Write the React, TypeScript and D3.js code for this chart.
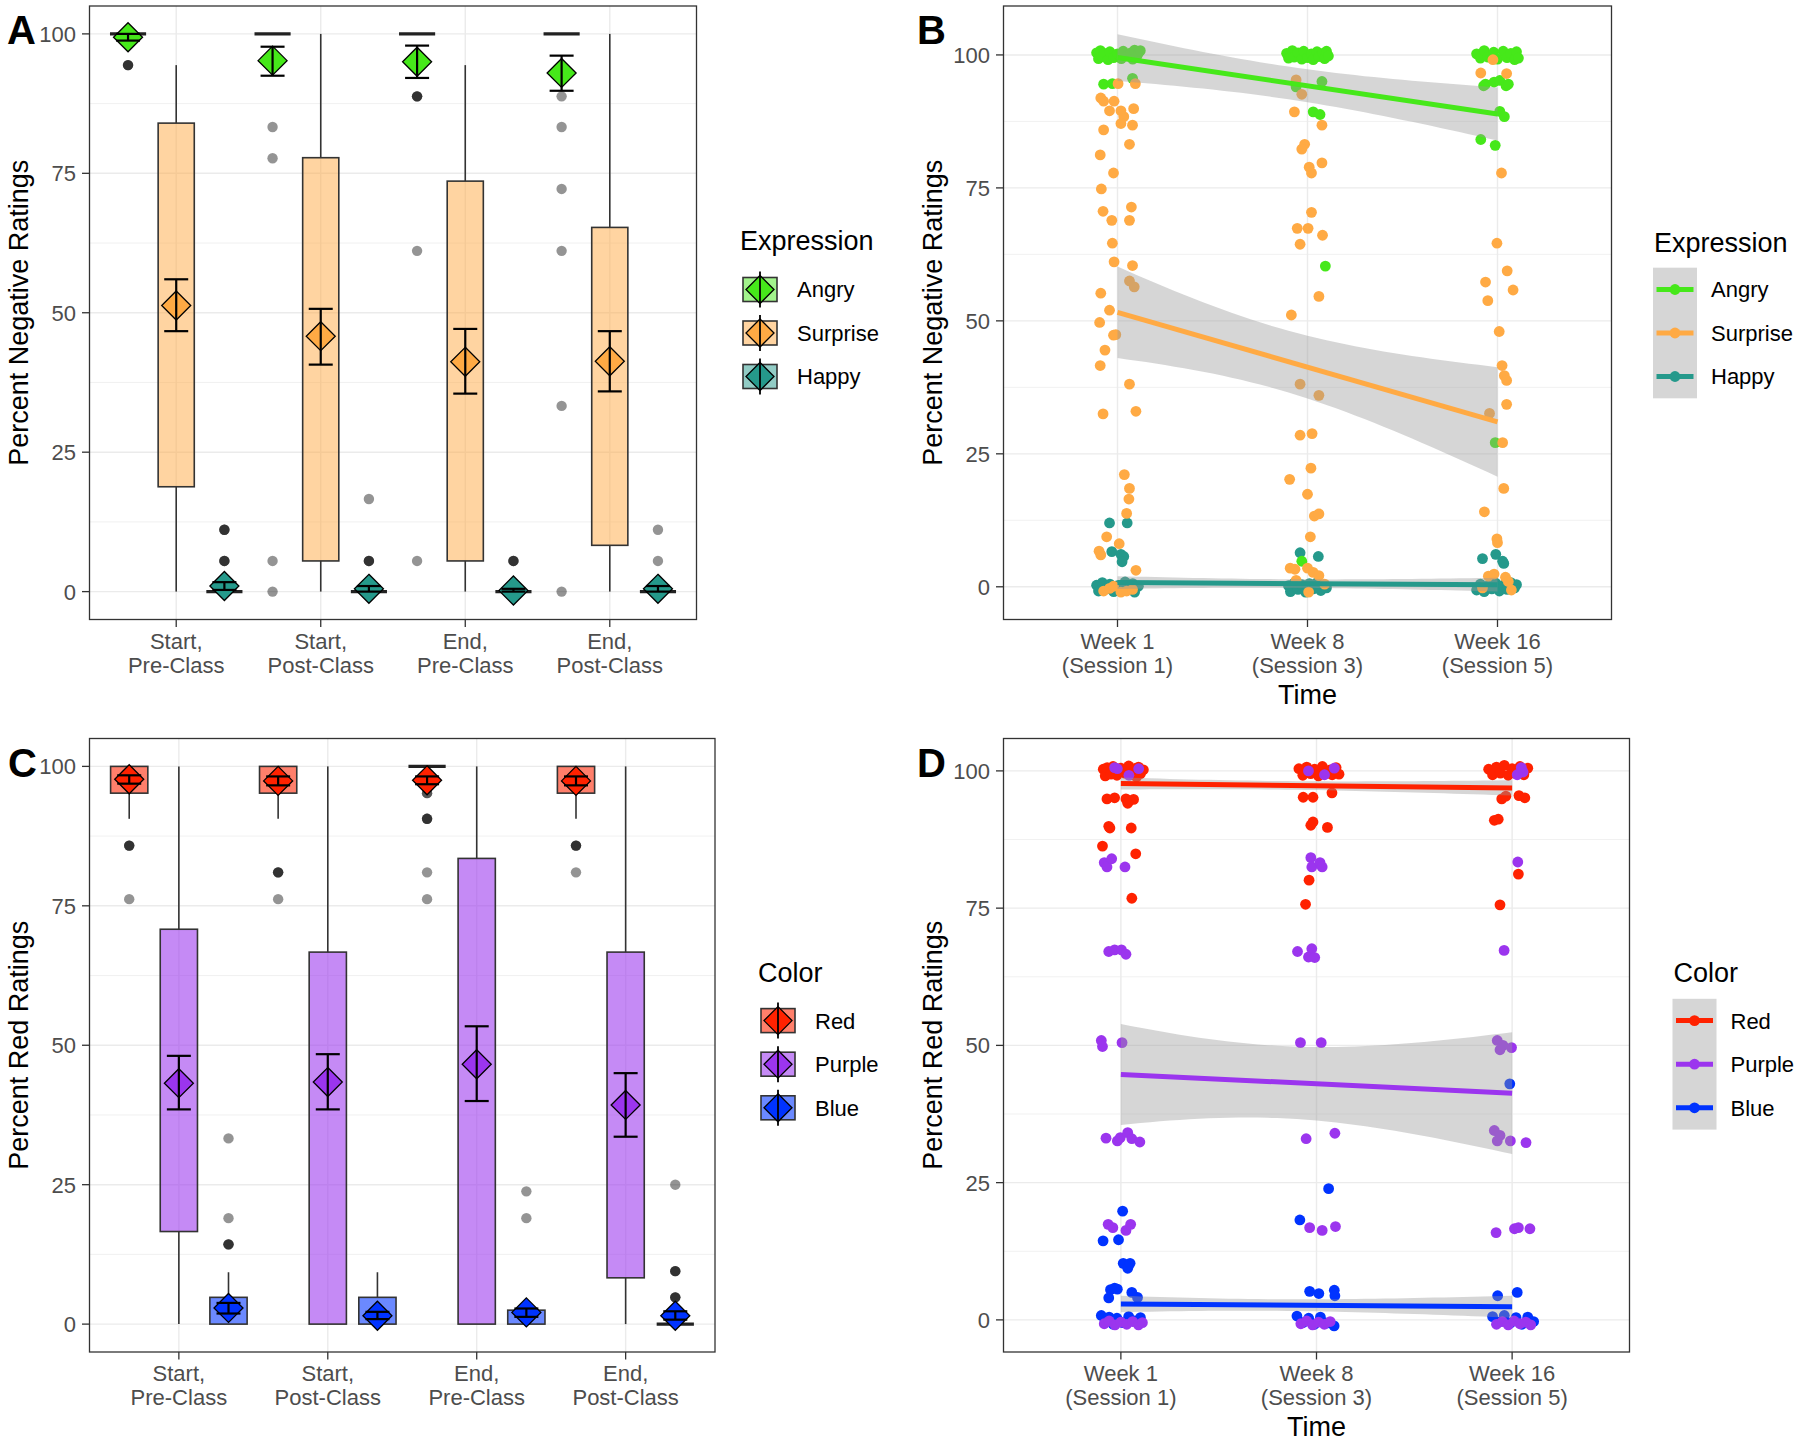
import React from "react";
import * as d3 from "d3";

const W = 1800, H = 1443;
const FONT = "'Liberation Sans', Arial, Helvetica, sans-serif";

// ---------- categories / labels ----------
const boxCategories = [["Start,", "Pre-Class"], ["Start,", "Post-Class"], ["End,", "Pre-Class"], ["End,", "Post-Class"]];
const weekCategories = [["Week 1", "(Session 1)"], ["Week 8", "(Session 3)"], ["Week 16", "(Session 5)"]];
const yTicks = [0, 25, 50, 75, 100];
const yMinor = [12.5, 37.5, 62.5, 87.5];
const expressionNames = ["Angry", "Surprise", "Happy"];
const expressionColors = ["#46E81A", "#FFAA44", "#25998B"];
const colorNames = ["Red", "Purple", "Blue"];
const colorColors = ["#FF2200", "#9B35EE", "#0033FF"];

// ---------- Panel A: box stats (per category) ----------
const angryBoxA = [
  { lo: 100, q1: 100, med: 100, q3: 100, hi: 100, mean: 99.4, eLo: 98.8, eHi: 100, out: [94.4, 94.4, 94.4] },
  { lo: 100, q1: 100, med: 100, q3: 100, hi: 100, mean: 95.2, eLo: 92.5, eHi: 97.7, out: [83.3, 77.7, 5.5, 0] },
  { lo: 100, q1: 100, med: 100, q3: 100, hi: 100, mean: 95.0, eLo: 92.1, eHi: 97.9, out: [88.8, 88.8, 88.8, 61.1, 5.5] },
  { lo: 100, q1: 100, med: 100, q3: 100, hi: 100, mean: 93.0, eLo: 89.8, eHi: 96.1, out: [88.8, 83.3, 72.2, 61.1, 33.3, 0] },
];
const surpriseBoxA = [
  { lo: 0, q1: 18.8, med: null, q3: 84.0, hi: 94.4, mean: 51.3, eLo: 46.7, eHi: 56.0, out: [] },
  { lo: 0, q1: 5.5, med: null, q3: 77.8, hi: 100, mean: 45.8, eLo: 40.7, eHi: 50.7, out: [] },
  { lo: 0, q1: 5.5, med: null, q3: 73.6, hi: 94.4, mean: 41.2, eLo: 35.5, eHi: 47.1, out: [] },
  { lo: 0, q1: 8.3, med: null, q3: 65.3, hi: 100, mean: 41.3, eLo: 35.9, eHi: 46.7, out: [] },
];
const happyBoxA = [
  { lo: 0, q1: 0, med: 0, q3: 0, hi: 0, mean: 1.0, eLo: 0.3, eHi: 1.7, out: [11.1, 11.1, 11.1, 5.5, 5.5, 5.5] },
  { lo: 0, q1: 0, med: 0, q3: 0, hi: 0, mean: 0.5, eLo: 0, eHi: 1.0, out: [16.6, 5.5, 5.5, 5.5] },
  { lo: 0, q1: 0, med: 0, q3: 0, hi: 0, mean: 0.2, eLo: 0, eHi: 0.5, out: [5.5, 5.5, 5.5] },
  { lo: 0, q1: 0, med: 0, q3: 0, hi: 0, mean: 0.5, eLo: 0, eHi: 1.0, out: [11.1, 5.5] },
];

// ---------- Panel C: box stats ----------
const redBoxC = [
  { lo: 90.6, q1: 95.2, med: null, q3: 100, hi: 100, mean: 97.7, eLo: 96.9, eHi: 98.4, out: [85.8, 85.8, 85.8, 76.2] },
  { lo: 90.6, q1: 95.2, med: null, q3: 100, hi: 100, mean: 97.4, eLo: 96.6, eHi: 98.2, out: [81.0, 81.0, 81.0, 76.2] },
  { lo: 100, q1: 100, med: 100, q3: 100, hi: 100, mean: 97.5, eLo: 96.8, eHi: 98.2, out: [95.2, 95.2, 90.6, 90.6, 90.6, 81.0, 76.2] },
  { lo: 90.6, q1: 95.2, med: null, q3: 100, hi: 100, mean: 97.4, eLo: 96.6, eHi: 98.2, out: [85.8, 85.8, 85.8, 81.0] },
];
const purpleBoxC = [
  { lo: 0, q1: 16.6, med: null, q3: 70.8, hi: 100, mean: 43.2, eLo: 38.5, eHi: 48.1, out: [] },
  { lo: 0, q1: 0, med: null, q3: 66.7, hi: 100, mean: 43.4, eLo: 38.5, eHi: 48.4, out: [] },
  { lo: 0, q1: 0, med: null, q3: 83.5, hi: 100, mean: 46.6, eLo: 40.0, eHi: 53.4, out: [] },
  { lo: 0, q1: 8.3, med: null, q3: 66.7, hi: 100, mean: 39.3, eLo: 33.6, eHi: 45.0, out: [] },
];
const blueBoxC = [
  { lo: 0, q1: 0, med: null, q3: 4.8, hi: 9.3, mean: 2.9, eLo: 1.9, eHi: 3.8, out: [33.3, 19.0, 14.3, 14.3, 14.3] },
  { lo: 0, q1: 0, med: null, q3: 4.8, hi: 9.3, mean: 1.5, eLo: 0.9, eHi: 2.2, out: [] },
  { lo: 0, q1: 0, med: null, q3: 2.5, hi: 2.5, mean: 2.1, eLo: 1.3, eHi: 2.8, out: [23.8, 19.0] },
  { lo: 0, q1: 0, med: 0, q3: 0, hi: 0, mean: 1.5, eLo: 0.8, eHi: 2.3, out: [25.0, 9.5, 9.5, 9.5, 4.8, 4.8, 4.8] },
];

// ---------- Panel B: jittered points [week, jitter, value] ----------
const angryPointsB = [
  [0,-0.11,100.4],[0,-0.1,99.3],[0,-0.09,100.8],[0,-0.08,99.7],[0,-0.07,100.3],[0,-0.05,99.1],[0,-0.04,100.6],[0,-0.02,99.5],[0,0.0,100.2],[0,0.02,99.3],[0,0.03,100.7],[0,0.05,99.8],[0,0.07,100.4],[0,0.08,99.2],[0,0.09,100.9],[0,0.1,99.6],[0,0.11,100.3],[0,0.12,100.8],
  [0,-0.073,94.5],[0,-0.027,94.6],[0,0.079,95.6],
  [1,-0.11,100.3],[1,-0.1,99.4],[1,-0.08,100.8],[1,-0.07,99.6],[1,-0.05,100.4],[1,-0.03,99.2],[1,-0.02,100.7],[1,0.0,99.5],[1,0.02,100.2],[1,0.03,99.1],[1,0.05,100.6],[1,0.06,99.7],[1,0.08,100.3],[1,0.09,99.3],[1,0.1,100.7],[1,0.11,99.8],
  [1,-0.06,94.0],[1,0.076,95.0],[1,0.03,89.3],[1,0.066,88.8],[1,0.094,60.3],[1,-0.03,4.8],
  [2,-0.11,100.2],[2,-0.09,99.4],[2,-0.07,100.8],[2,-0.05,99.6],[2,-0.02,100.5],[2,0.0,99.2],[2,0.03,100.7],[2,0.05,99.5],[2,0.07,100.3],[2,0.09,99.1],[2,0.1,100.6],[2,0.11,99.4],
  [2,-0.063,94.5],[2,-0.018,94.9],[2,0.012,95.2],[2,0.045,94.2],[2,0.057,94.5],[2,-0.073,94.2],[2,0.012,89.4],[2,0.036,88.4],[2,-0.088,84.1],[2,-0.012,83.0],[2,-0.012,27.1],
];
const surprisePointsB = [
  [0,0.003,94.6],[0,0.094,94.6],[0,-0.088,91.9],[0,-0.073,91.3],[0,-0.018,91.3],[0,-0.042,89.5],[0,0.018,89.5],[0,0.033,88.4],[0,0.085,89.9],[0,0.018,87.1],[0,0.079,86.8],[0,-0.073,85.9],[0,0.063,83.2],[0,-0.091,81.2],[0,-0.021,77.8],[0,-0.085,74.8],[0,-0.076,70.6],[0,-0.03,68.9],[0,0.073,71.4],[0,0.063,68.9],[0,-0.027,64.6],[0,-0.018,61.1],[0,0.079,60.4],[0,0.063,57.5],[0,0.088,56.4],[0,-0.088,55.2],[0,-0.042,52.0],[0,-0.094,49.7],[0,-0.021,47.3],[0,-0.009,47.4],[0,-0.066,44.5],[0,-0.091,41.6],[0,0.063,38.1],[0,-0.076,32.5],[0,0.097,33.0],[0,0.036,21.1],[0,0.063,18.5],[0,0.06,16.5],[0,0.048,13.8],[0,-0.057,9.4],[0,0.009,8.1],[0,-0.097,6.7],[0,-0.088,6.0],[0,0.097,3.1],[0,-0.073,-0.8],[0,-0.042,-0.3],[0,0.018,-1.0],[0,0.048,-0.8],[0,-0.021,0.1],[0,0.079,-0.5],
  [1,-0.06,95.3],[1,-0.03,92.6],[1,-0.069,89.3],[1,0.076,86.8],[1,-0.015,83.2],[1,-0.03,82.3],[1,0.076,79.7],[1,0.009,78.9],[1,0.021,77.8],[1,0.021,70.4],[1,-0.054,67.4],[1,0.003,67.4],[1,-0.039,64.4],[1,0.079,66.1],[1,0.06,54.6],[1,-0.085,51.1],[1,-0.039,38.1],[1,0.06,36.0],[1,-0.039,28.5],[1,0.024,28.8],[1,0.018,22.3],[1,-0.094,20.2],[1,0.0,17.4],[1,0.036,13.3],[1,0.06,13.7],[1,0.015,9.4],[1,-0.091,3.5],[1,-0.066,3.3],[1,0.0,3.5],[1,0.03,2.7],[1,0.06,2.1],[1,0.006,-1.0],[1,-0.06,1.2],[1,0.09,0.5],
  [2,-0.024,99.1],[2,-0.088,96.6],[2,0.048,96.5],[2,0.021,77.8],[2,-0.003,64.6],[2,-0.063,57.3],[2,0.051,59.4],[2,0.082,55.8],[2,-0.051,53.8],[2,0.009,48.0],[2,0.024,41.6],[2,0.036,39.7],[2,0.048,38.8],[2,0.048,34.3],[2,-0.042,32.6],[2,0.027,27.1],[2,0.033,18.5],[2,-0.069,14.1],[2,-0.003,9.0],[2,0.0,8.3],[2,-0.048,2.0],[2,-0.018,2.4],[2,0.042,1.8],[2,0.057,1.0],[2,0.073,-0.6],[2,-0.079,-0.2],
];
const happyPointsB = [
  [0,-0.042,12.0],[0,0.051,12.0],[0,-0.03,6.6],[0,0.018,6.1],[0,0.033,5.7],[0,0.024,4.7],
  [0,-0.11,0.3],[0,-0.1,-0.8],[0,-0.08,0.8],[0,-0.06,-0.4],[0,-0.04,0.5],[0,-0.02,-0.9],[0,0.0,0.2],[0,0.02,-0.6],[0,0.04,0.9],[0,0.06,-0.3],[0,0.08,0.6],[0,0.09,-1.0],[0,0.11,0.1],
  [1,-0.039,6.4],[1,0.057,5.7],
  [1,-0.1,0.2],[1,-0.09,-0.9],[1,-0.07,0.7],[1,-0.05,-0.5],[1,-0.03,0.4],[1,-0.01,-1.0],[1,0.01,0.6],[1,0.03,-0.4],[1,0.05,0.8],[1,0.07,-0.7],[1,0.09,0.3],[1,0.1,-0.2],
  [2,-0.079,5.3],[2,-0.009,6.1],[2,0.027,4.8],[2,0.033,4.4],
  [2,-0.11,-0.6],[2,-0.09,0.5],[2,-0.07,-0.9],[2,-0.05,0.2],[2,-0.03,-0.4],[2,-0.01,0.7],[2,0.01,-0.8],[2,0.03,0.3],[2,0.05,-0.5],[2,0.07,0.8],[2,0.09,-0.2],[2,0.1,0.4],
];

// ---------- Panel D: jittered points [week, jitter, value] ----------
const redPointsD = [
  [0,-0.09,100.3],[0,-0.08,99.1],[0,-0.07,100.6],[0,-0.05,99.4],[0,-0.04,100.8],[0,-0.02,99.2],[0,0.0,100.5],[0,0.02,99.6],[0,0.04,100.9],[0,0.05,99.3],[0,0.07,100.4],[0,0.08,98.9],[0,0.09,100.7],[0,0.1,99.5],[0,0.115,100.2],
  [0,-0.071,94.9],[0,-0.032,95.1],[0,0.026,94.9],[0,0.041,94.5],[0,0.065,94.8],[0,0.035,94.1],[0,-0.062,89.9],[0,-0.056,89.6],[0,0.053,89.6],[0,-0.094,86.3],[0,0.076,84.9],[0,0.056,76.8],
  [1,-0.09,100.4],[1,-0.07,99.2],[1,-0.05,100.7],[1,-0.03,99.5],[1,-0.01,100.3],[1,0.01,99.1],[1,0.03,100.8],[1,0.05,99.6],[1,0.07,100.2],[1,0.08,99.3],[1,0.1,100.6],[1,0.115,99.4],
  [1,-0.068,95.2],[1,-0.018,95.2],[1,0.079,96.0],[1,-0.029,90.1],[1,-0.018,90.7],[1,0.056,89.7],[1,-0.038,80.1],[1,-0.056,75.7],
  [2,-0.12,100.3],[2,-0.1,99.3],[2,-0.08,100.7],[2,-0.06,99.6],[2,-0.04,101.0],[2,-0.02,99.2],[2,0.0,100.4],[2,0.02,99.5],[2,0.04,100.8],[2,0.06,99.3],[2,0.08,100.5],
  [2,-0.053,94.9],[2,-0.032,95.4],[2,0.035,95.5],[2,0.065,95.1],[2,-0.091,91.0],[2,-0.071,91.2],[2,0.032,81.2],[2,-0.062,75.6],
];
const purplePointsD = [
  [0,-0.032,100.6],[0,-0.018,100.4],[0,0.041,99.2],[0,0.091,100.4],[0,-0.085,83.3],[0,-0.071,82.5],[0,-0.047,84.0],[0,0.021,82.5],[0,-0.062,67.1],[0,-0.032,67.4],[0,0.003,67.4],[0,0.026,66.6],[0,-0.1,50.9],[0,-0.094,49.8],[0,0.006,50.5],[0,-0.076,33.1],[0,-0.018,32.6],[0,-0.003,33.2],[0,0.035,34.1],[0,0.056,33.0],[0,0.097,32.4],[0,-0.065,17.4],[0,-0.041,16.8],[0,0.026,16.3],[0,0.05,17.4],
  [0,-0.085,-0.7],[0,-0.06,-0.2],[0,-0.03,-0.9],[0,0.0,-0.4],[0,0.03,-0.8],[0,0.06,-0.3],[0,0.09,-0.9],[0,0.11,-0.5],
  [1,-0.041,100.0],[1,0.041,99.3],[1,0.091,100.5],[1,-0.029,84.2],[1,-0.024,82.5],[1,0.018,83.3],[1,0.029,82.5],[1,-0.097,67.1],[1,-0.024,67.6],[1,-0.041,66.1],[1,-0.009,66.0],[1,-0.082,50.5],[1,0.024,50.5],[1,-0.053,33.0],[1,0.094,34.0],[1,-0.035,16.8],[1,0.029,16.3],[1,0.097,17.0],
  [1,-0.08,-0.7],[1,-0.05,-0.2],[1,-0.02,-0.9],[1,0.01,-0.4],[1,0.04,-0.8],[1,0.07,-0.3],
  [2,0.056,99.8],[2,0.026,99.3],[2,0.047,100.6],[2,0.029,83.4],[2,-0.041,67.3],[2,-0.076,50.9],[2,-0.047,50.0],[2,-0.003,49.6],[2,-0.062,49.2],[2,-0.091,34.5],[2,-0.062,33.6],[2,-0.076,32.6],[2,-0.009,32.6],[2,0.071,32.3],[2,-0.082,15.9],[2,0.012,16.6],[2,0.032,16.8],[2,0.091,16.6],
  [2,-0.08,-0.8],[2,-0.05,-0.3],[2,-0.02,-0.9],[2,0.01,-0.2],[2,0.04,-0.7],[2,0.07,-0.4],[2,0.095,-0.9],
];
const bluePointsD = [
  [0,0.009,19.8],[0,-0.091,14.4],[0,-0.012,14.6],[0,0.012,10.3],[0,0.035,9.4],[0,0.047,10.3],[0,-0.053,5.5],[0,-0.018,5.6],[0,-0.032,5.8],[0,0.056,5.0],[0,0.085,4.1],[0,-0.062,4.0],
  [0,-0.1,0.8],[0,-0.08,-0.3],[0,-0.06,0.5],[0,-0.04,-0.8],[0,-0.02,0.3],[0,0.01,-0.5],[0,0.04,0.6],[0,0.07,-0.2],[0,0.1,0.4],
  [1,0.062,23.9],[1,-0.085,18.2],[1,-0.035,5.2],[1,0.012,4.8],[1,0.091,5.4],[1,0.094,4.4],
  [1,-0.1,0.7],[1,-0.07,-0.5],[1,-0.04,0.3],[1,-0.01,-0.8],[1,0.02,0.5],[1,0.05,-0.6],[1,0.09,-1.1],
  [2,-0.012,43.0],[2,-0.074,4.4],[2,0.026,5.0],
  [2,-0.1,0.6],[2,-0.07,-0.4],[2,-0.04,0.8],[2,-0.01,-0.6],[2,0.02,0.4],[2,0.05,-0.8],[2,0.08,0.5],[2,0.11,-0.3],
];

// ---------- fitted lines: [fit at Week1, fit at Week16] and CI half-widths at [Week1, Week8, Week16] ----------
const angryFitB = [99.5, 88.9], angryCIB = [4.4, 3.1, 5.0];
const surpriseFitB = [51.6, 31.0], surpriseCIB = [8.6, 5.9, 10.3];
const happyFitB = [0.8, 0.4], happyCIB = [1.2, 0.8, 1.3];
const redFitD = [97.7, 96.9], redCID = [1.1, 0.8, 1.4];
const purpleFitD = [44.7, 41.3], purpleCID = [9.2, 6.7, 11.1];
const blueFitD = [2.9, 2.4], blueCID = [1.5, 1.1, 2.0];

// ---------- helpers ----------
const diamondPath = (cx, cy, r) => `M${cx},${cy - r}L${cx + r},${cy}L${cx},${cy + r}L${cx - r},${cy}Z`;
const PT_R = 5.4;

function grid(x, y, x0, x1, y0, y1, nCats) {
  const els = [];
  yMinor.forEach((v, i) => {
    const yy = y(v);
    if (yy > y0 && yy < y1) els.push(<line key={"mi" + i} x1={x0} x2={x1} y1={yy} y2={yy} stroke="#EBEBEB" strokeWidth={0.7} />);
  });
  yTicks.forEach((v, i) => (
    els.push(<line key={"ma" + i} x1={x0} x2={x1} y1={y(v)} y2={y(v)} stroke="#EBEBEB" strokeWidth={1.4} />)
  ));
  d3.range(nCats).forEach((i) => (
    els.push(<line key={"mx" + i} x1={x(i)} x2={x(i)} y1={y0} y2={y1} stroke="#EBEBEB" strokeWidth={1.4} />)
  ));
  return els;
}

function axes(x, y, x0, x1, y0, y1, cats, letter, letterX, letterY, ylabel, xTitle) {
  const els = [];
  els.push(<rect key="border" x={x0} y={y0} width={x1 - x0} height={y1 - y0} fill="none" stroke="#333333" strokeWidth={1.3} />);
  yTicks.forEach((v, i) => {
    els.push(<line key={"yt" + i} x1={x0 - 7.5} x2={x0} y1={y(v)} y2={y(v)} stroke="#333333" strokeWidth={1.3} />);
    els.push(<text key={"yl" + i} x={x0 - 13.5} y={y(v)} dy="0.36em" textAnchor="end" fontSize={22} fill="#4D4D4D">{v}</text>);
  });
  cats.forEach((c, i) => {
    els.push(<line key={"xt" + i} x1={x(i)} x2={x(i)} y1={y1} y2={y1 + 7.5} stroke="#333333" strokeWidth={1.3} />);
    els.push(<text key={"xl" + i} x={x(i)} y={y1 + 29} textAnchor="middle" fontSize={22} fill="#4D4D4D">
      <tspan x={x(i)} y={y1 + 29}>{c[0]}</tspan>
      <tspan x={x(i)} y={y1 + 53}>{c[1]}</tspan>
    </text>);
  });
  els.push(<text key="ylab" transform={`translate(${x0 - 62},${(y0 + y1) / 2}) rotate(-90)`} textAnchor="middle" fontSize={27} fill="#000">{ylabel}</text>);
  if (xTitle) els.push(<text key="xtitle" x={(x0 + x1) / 2} y={y1 + 84} textAnchor="middle" fontSize={27} fill="#000">{xTitle}</text>);
  els.push(<text key="letter" x={letterX} y={letterY} fontSize={40} fontWeight="bold" fill="#000">{letter}</text>);
  return els;
}

function BoxPanel({ x0, x1, y0, y1, groups, colors, names, fillOpacity, letter, letterX, letterY, ylabel, legendTitle, legendX, legendTitleY, keyYs }) {
  const x = d3.scalePoint().domain(d3.range(boxCategories.length)).range([x0, x1]).padding(0.6);
  const y = d3.scaleLinear().domain([-5, 105]).range([y1, y0]);
  const step = x.step();
  const bw = step * 0.25;
  const content = [];
  groups.forEach((stats, g) => {
    stats.forEach((s, i) => {
      const cx = x(i) + (g - 1) * step / 3;
      const k = `${g}-${i}`;
      content.push(<line key={"wl" + k} x1={cx} x2={cx} y1={y(s.lo)} y2={y(s.q1)} stroke="#333" strokeWidth={1.6} />);
      content.push(<line key={"wh" + k} x1={cx} x2={cx} y1={y(s.q3)} y2={y(s.hi)} stroke="#333" strokeWidth={1.6} />);
      content.push(<rect key={"bx" + k} x={cx - bw / 2} y={y(s.q3)} width={bw} height={Math.max(0, y(s.q1) - y(s.q3))}
        fill={colors[g]} fillOpacity={fillOpacity} stroke="#333" strokeWidth={1.6} />);
      if (s.med !== null) content.push(<line key={"md" + k} x1={cx - bw / 2} x2={cx + bw / 2} y1={y(s.med)} y2={y(s.med)} stroke="#222" strokeWidth={3.2} />);
      s.out.forEach((o, j) => content.push(<circle key={"o" + k + "-" + j} cx={cx} cy={y(o)} r={5.2} fill="#000" fillOpacity={0.42} />));
    });
  });
  groups.forEach((stats, g) => {
    stats.forEach((s, i) => {
      const cx = x(i) + (g - 1) * step / 3;
      const k = `${g}-${i}`;
      content.push(<path key={"dm" + k} d={diamondPath(cx, y(s.mean), 14.5)} fill={colors[g]} stroke="#000" strokeWidth={1.3} />);
      content.push(<g key={"eb" + k} stroke="#000" strokeWidth={2.2}>
        <line x1={cx} x2={cx} y1={y(s.eLo)} y2={y(s.eHi)} />
        <line x1={cx - 12} x2={cx + 12} y1={y(s.eLo)} y2={y(s.eLo)} />
        <line x1={cx - 12} x2={cx + 12} y1={y(s.eHi)} y2={y(s.eHi)} />
      </g>);
    });
  });
  const legend = [<text key="lt" x={legendX - 3} y={legendTitleY} fontSize={27} fill="#000">{legendTitle}</text>];
  names.forEach((n, g) => {
    const cy = keyYs[g], cx = legendX + 17;
    legend.push(<g key={"k" + g}>
      <rect x={legendX} y={cy - 12} width={34} height={24} fill={colors[g]} fillOpacity={fillOpacity} stroke="#333" strokeWidth={1.6} />
      <path d={diamondPath(cx, cy, 14)} fill={colors[g]} stroke="#000" strokeWidth={1.3} />
      <line x1={cx} x2={cx} y1={cy - 18} y2={cy + 18} stroke="#000" strokeWidth={1.8} />
      <text x={legendX + 54} y={cy} dy="0.36em" fontSize={22} fill="#000">{n}</text>
    </g>);
  });
  return <g>
    {grid(x, y, x0, x1, y0, y1, boxCategories.length)}
    {content}
    {axes(x, y, x0, x1, y0, y1, boxCategories, letter, letterX, letterY, ylabel, null)}
    {legend}
  </g>;
}

function ScatterPanel({ x0, x1, y0, y1, yDomain, series, drawOrder, names, colors, letter, letterX, letterY, ylabel, legendTitle, legendX, legendTitleY, keyYs }) {
  const x = d3.scalePoint().domain(d3.range(weekCategories.length)).range([x0, x1]).padding(0.6);
  const y = d3.scaleLinear().domain(yDomain).range([y1, y0]);
  const step = x.step();
  const pts = [];
  drawOrder.forEach((g) => {
    series[g].points.forEach((p, j) => {
      pts.push(<circle key={`p${g}-${j}`} cx={x(p[0]) + p[1] * step} cy={y(p[2])} r={PT_R} fill={colors[g]} />);
    });
  });
  const smooth = [];
  series.forEach((s, g) => {
    const ts = d3.range(0, 2.0001, 0.05);
    const h2 = (t) => {
      const a = s.ci[0] ** 2, b = s.ci[1] ** 2, c = s.ci[2] ** 2;
      return a * (t - 1) * (t - 2) / 2 - b * t * (t - 2) + c * t * (t - 1) / 2;
    };
    const fit = (t) => s.fit[0] + (s.fit[1] - s.fit[0]) * t / 2;
    const area = d3.area().x((t) => x(0) + t * step).y0((t) => y(fit(t) - Math.sqrt(Math.max(0, h2(t))))).y1((t) => y(fit(t) + Math.sqrt(Math.max(0, h2(t)))));
    const line = d3.line().x((t) => x(0) + t * step).y((t) => y(fit(t)));
    smooth.push(<path key={"rb" + g} d={area(ts)} fill="#999999" fillOpacity={0.4} stroke="none" />);
    smooth.push(<path key={"ln" + g} d={line([0, 2])} fill="none" stroke={colors[g]} strokeWidth={5} />);
  });
  const keyH = 43.6;
  const legend = [<text key="lt" x={legendX + 1} y={legendTitleY} fontSize={27} fill="#000">{legendTitle}</text>];
  legend.push(<rect key="kbg" x={legendX} y={keyYs[0] - keyH / 2} width={44} height={keyYs[keyYs.length - 1] - keyYs[0] + keyH} fill="#999999" fillOpacity={0.4} />);
  names.forEach((n, g) => {
    const cy = keyYs[g];
    legend.push(<g key={"k" + g}>
      <line x1={legendX + 3.5} x2={legendX + 40.5} y1={cy} y2={cy} stroke={colors[g]} strokeWidth={5} />
      <circle cx={legendX + 22} cy={cy} r={PT_R} fill={colors[g]} />
      <text x={legendX + 58} y={cy} dy="0.36em" fontSize={22} fill="#000">{n}</text>
    </g>);
  });
  return <g>
    {grid(x, y, x0, x1, y0, y1, weekCategories.length)}
    {pts}
    {smooth}
    {axes(x, y, x0, x1, y0, y1, weekCategories, letter, letterX, letterY, ylabel, "Time")}
    {legend}
  </g>;
}

export default function App() {
  return (
    <svg width={W} height={H} viewBox={`0 0 ${W} ${H}`} style={{ display: "block", position: "absolute", left: 0, top: 0, background: "#fff" }} fontFamily={FONT}>
      <rect x={0} y={0} width={W} height={H} fill="#fff" />
      <BoxPanel x0={89.5} x1={696.5} y0={6} y1={619.5}
        groups={[angryBoxA, surpriseBoxA, happyBoxA]} colors={expressionColors} names={expressionNames} fillOpacity={0.5}
        letter="A" letterX={7} letterY={43.5} ylabel="Percent Negative Ratings"
        legendTitle="Expression" legendX={743} legendTitleY={250} keyYs={[289.5, 333, 376.5]} />
      <ScatterPanel x0={1003.5} x1={1611.5} y0={6} y1={619.5} yDomain={[-6.15, 109.2]}
        series={[
          { points: angryPointsB, fit: angryFitB, ci: angryCIB },
          { points: surprisePointsB, fit: surpriseFitB, ci: surpriseCIB },
          { points: happyPointsB, fit: happyFitB, ci: happyCIB },
        ]}
        drawOrder={[2, 0, 1]} names={expressionNames} colors={expressionColors}
        letter="B" letterX={917} letterY={43.5} ylabel="Percent Negative Ratings"
        legendTitle="Expression" legendX={1653} legendTitleY={252} keyYs={[289.5, 333, 376.5]} />
      <BoxPanel x0={89.5} x1={715} y0={738.5} y1={1352}
        groups={[redBoxC, purpleBoxC, blueBoxC]} colors={colorColors} names={colorNames} fillOpacity={0.58}
        letter="C" letterX={8} letterY={777} ylabel="Percent Red Ratings"
        legendTitle="Color" legendX={761} legendTitleY={982} keyYs={[1020.6, 1064.2, 1107.8]} />
      <ScatterPanel x0={1003.5} x1={1629.5} y0={738.5} y1={1352} yDomain={[-5.85, 105.9]}
        series={[
          { points: redPointsD, fit: redFitD, ci: redCID },
          { points: purplePointsD, fit: purpleFitD, ci: purpleCID },
          { points: bluePointsD, fit: blueFitD, ci: blueCID },
        ]}
        drawOrder={[0, 2, 1]} names={colorNames} colors={colorColors}
        letter="D" letterX={917} letterY={777} ylabel="Percent Red Ratings"
        legendTitle="Color" legendX={1672.5} legendTitleY={982} keyYs={[1020.6, 1064.2, 1107.8]} />
    </svg>
  );
}
